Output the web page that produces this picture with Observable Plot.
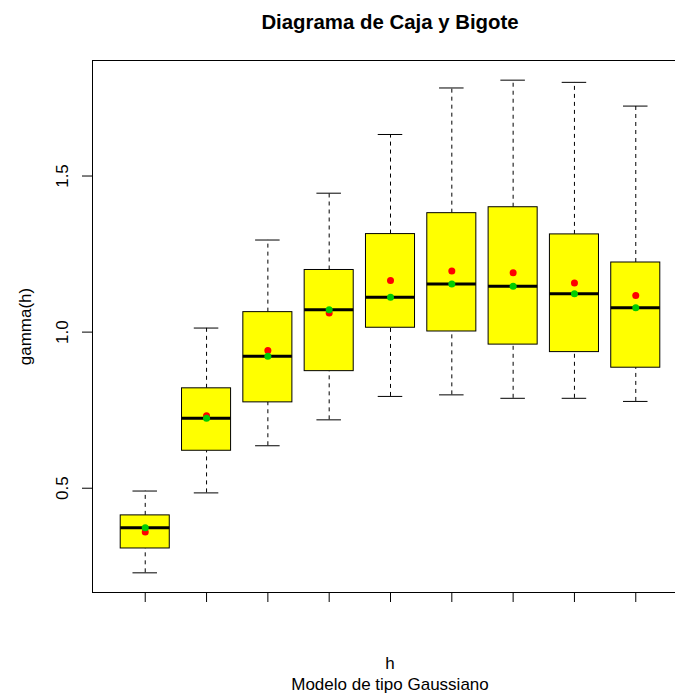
<!DOCTYPE html>
<html>
<head>
<meta charset="utf-8">
<script src="https://cdn.jsdelivr.net/npm/d3@7"></script>
<script src="https://cdn.jsdelivr.net/npm/@observablehq/plot@0.6"></script>
<style>
  html, body { margin: 0; padding: 0; background: white; }
  #wrap { width: 675px; height: 696px; overflow: hidden; position: relative; font-family: "Liberation Sans", Arial, sans-serif; color: black; }
  #title { width: 780px; height: 40px; padding-top: 2px; line-height: 40px; text-align: center; font-weight: bold; font-size: 20.4px; }
  #bottom { width: 780px; padding-top: 24px; text-align: center; font-size: 17px; }
  #bottom .l1 { line-height: 20px; }
  #bottom .l2 { line-height: 22px; }
  #chart svg { display: block; max-width: none; }
</style>
</head>
<body>
<div id="wrap">
  <div id="title">Diagrama de Caja y Bigote</div>
  <div id="chart"></div>
  <div id="bottom"><div class="l1">h</div><div class="l2">Modelo de tipo Gaussiano</div></div>
</div>
<script>
const h      = [1, 2, 3, 4, 5, 6, 7, 8, 9];
const lower  = [0.229, 0.485, 0.636, 0.719, 0.794, 0.799, 0.788, 0.788, 0.778];
const q1     = [0.307, 0.620, 0.775, 0.875, 1.014, 1.002, 0.960, 0.936, 0.886];
const median = [0.373, 0.724, 0.923, 1.072, 1.112, 1.154, 1.147, 1.123, 1.078];
const q3     = [0.413, 0.820, 1.064, 1.199, 1.314, 1.381, 1.400, 1.313, 1.223];
const upper  = [0.491, 1.013, 1.295, 1.445, 1.633, 1.782, 1.807, 1.800, 1.724];
const mean   = [0.360, 0.732, 0.941, 1.061, 1.165, 1.196, 1.190, 1.157, 1.117];
const yTicks = [0.5, 1.0, 1.5];

const data = h.map((k, i) => ({
  h: k, lower: lower[i], q1: q1[i], median: median[i], q3: q3[i], upper: upper[i], mean: mean[i]
}));

const halfBox = 0.4, halfCap = 0.2;

const chart = Plot.plot({
  width: 700,
  height: 588,
  marginLeft: 92,
  marginRight: 12,
  marginTop: 18,
  marginBottom: 38,
  style: { fontFamily: "'Liberation Sans', Arial, sans-serif", fontSize: "17px", color: "black", background: "white", maxWidth: "none" },
  x: { type: "linear", domain: [0.14, 9.86] },
  y: { domain: [0.166, 1.870] },
  marks: [
    Plot.ruleX(data, { x: "h", y1: "lower", y2: "q1", stroke: "black", strokeWidth: 1, strokeDasharray: "4,4" }),
    Plot.ruleX(data, { x: "h", y1: "q3", y2: "upper", stroke: "black", strokeWidth: 1, strokeDasharray: "4,4" }),
    Plot.ruleY(data, { y: "lower", x1: d => d.h - halfCap, x2: d => d.h + halfCap, stroke: "black", strokeWidth: 1 }),
    Plot.ruleY(data, { y: "upper", x1: d => d.h - halfCap, x2: d => d.h + halfCap, stroke: "black", strokeWidth: 1 }),
    Plot.rect(data, { x1: d => d.h - halfBox, x2: d => d.h + halfBox, y1: "q1", y2: "q3", fill: "#FFFF00", stroke: "black", strokeWidth: 1 }),
    Plot.ruleY(data, { y: "median", x1: d => d.h - halfBox, x2: d => d.h + halfBox, stroke: "black", strokeWidth: 3 }),
    Plot.dot(data, { x: "h", y: "mean", r: 3.5, fill: "#FF0000", stroke: "none" }),
    Plot.dot(data, { x: "h", y: "median", r: 3.5, fill: "#00CD00", stroke: "none" }),
    Plot.frame({ stroke: "black", strokeWidth: 1 }),
    Plot.axisY({ ticks: yTicks, tickSize: 10, tickFormat: () => "", label: null, stroke: "black" }),
    Plot.text(yTicks, { y: d => d, text: d => d3.format(".1f")(d), frameAnchor: "left", dx: -30, rotate: -90, lineAnchor: "middle", textAnchor: "middle", fontSize: 17, fill: "black" }),
    Plot.text(["gamma(h)"], { text: d => d, frameAnchor: "left", dx: -67, rotate: -90, lineAnchor: "middle", textAnchor: "middle", fontSize: 17, fill: "black" }),
    Plot.axisX({ ticks: h, tickSize: 10, tickFormat: () => "", label: null, stroke: "black" })
  ]
});
document.getElementById("chart").appendChild(chart);
</script>
</body>
</html>
